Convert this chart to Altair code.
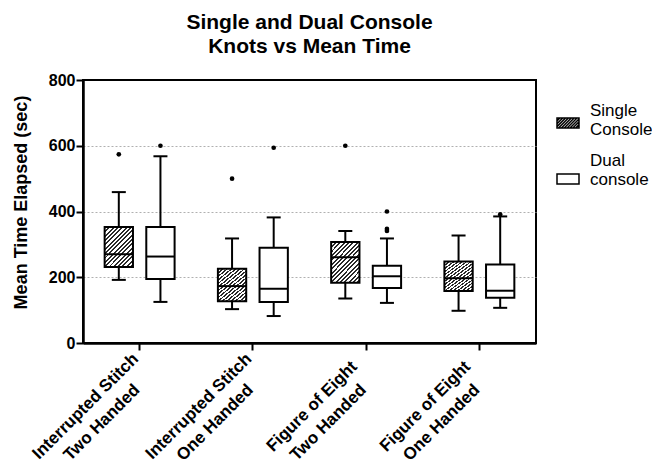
import altair as alt
import pandas as pd

# ---------------- data ----------------
knots = [
    "Interrupted Stitch\nTwo Handed",
    "Interrupted Stitch\nOne Handed",
    "Figure of Eight\nTwo Handed",
    "Figure of Eight\nOne Handed",
]
groups = ["Single Console", "Dual console"]

single_min = [192, 103, 135, 98]
single_q1 = [231, 127, 183, 158]
single_median = [270, 173, 261, 197]
single_q3 = [353, 226, 307, 248]
single_max = [459, 318, 341, 327]

dual_min = [125, 82, 122, 107]
dual_q1 = [195, 125, 167, 138]
dual_median = [263, 165, 203, 159]
dual_q3 = [353, 290, 235, 239]
dual_max = [568, 382, 318, 385]

outlier_knot = [0, 0, 1, 1, 2, 2, 2, 2, 3]
outlier_group = [0, 1, 0, 1, 0, 1, 1, 1, 1]
outlier_value = [574, 600, 500, 594, 600, 400, 341, 347, 391]

y_ticks = [0, 200, 400, 600, 800]

# ---------------- tables ----------------
rows = []
stats = {
    groups[0]: (single_min, single_q1, single_median, single_q3, single_max),
    groups[1]: (dual_min, dual_q1, dual_median, dual_q3, dual_max),
}
for i, k in enumerate(knots):
    for g in groups:
        lo, q1, med, q3, hi = stats[g]
        rows.append(dict(knot=k, group=g, lo=lo[i], q1=q1[i], med=med[i], q3=q3[i], hi=hi[i]))
box_df = pd.DataFrame(rows)

out_df = pd.DataFrame({
    "knot": [knots[i] for i in outlier_knot],
    "group": [groups[i] for i in outlier_group],
    "value": outlier_value,
})

FONT = "Liberation Sans"

# hatch fill for the single-console boxes
N = 16
dark = "#2a2a2a"
stops = []
for k in range(N):
    a, b, c = k / N, (k + 0.45) / N, (k + 1) / N
    stops += [
        {"offset": a, "color": dark},
        {"offset": b, "color": dark},
        {"offset": b, "color": "white"},
        {"offset": c, "color": "white"},
    ]
hatch = {"gradient": "linear", "x1": 0, "y1": 0, "x2": 0.82, "y2": 1.15, "stops": stops}

# legend swatch shapes (custom svg paths)
h = 0.45
parts = [f"M-1,{-h}H1V{h}H-1Z"]
step = 0.26
x0 = -1 - 2 * h + step
while x0 < 1:
    s0 = max(0.0, -1 - x0)
    s1 = min(2 * h, 1 - x0)
    if s1 > s0:
        parts.append(f"M{x0 + s0:.3f},{h - s0:.3f}L{x0 + s1:.3f},{h - s1:.3f}")
    x0 += step
hatch_path = "".join(parts)
rect_path = "M-1,-0.45H1V0.45H-1Z"

# ---------------- encodings ----------------
x_enc = alt.X(
    "knot:N",
    sort=knots,
    scale=alt.Scale(paddingInner=0, paddingOuter=0),
    axis=alt.Axis(
        title=None,
        labelExpr="split(datum.label, '\\n')",
        labelAngle=315,
        labelAlign="center",
        labelBaseline="middle",
        labelOffset=-54,
        labelPadding=56,
        labelFont=FONT,
        labelFontSize=17,
        labelFontWeight="bold",
        labelColor="black",
        labelLineHeight=23,
        labelOverlap=False,
        labelLimit=400,
        labelBound=False,
        tickSize=7,
        tickWidth=2,
        tickColor="black",
        domainColor="black",
        domainWidth=2.5,
        grid=False,
    ),
)
xoff_enc = alt.XOffset("group:N", sort=groups, scale=alt.Scale(paddingInner=0.32, paddingOuter=0.52))

y_axis = alt.Axis(
    values=y_ticks,
    title="Mean Time Elapsed (sec)",
    titleFont=FONT,
    titleFontSize=18,
    titleFontWeight="bold",
    titleColor="black",
    titlePadding=18,
    titleY=122,
    labelFont=FONT,
    labelFontSize=16,
    labelFontWeight="bold",
    labelColor="black",
    labelPadding=1,
    tickSize=7,
    tickWidth=2,
    tickColor="black",
    domainColor="black",
    domainWidth=2.5,
    grid=True,
    gridColor="#b0b0b0",
    gridDash=[2, 2],
    gridWidth=1,
    gridOpacity={"condition": {"test": "datum.value == 0 || datum.value == 800", "value": 0}, "value": 1},
)
y_scale = alt.Scale(domain=[0, 800], nice=False)


def Y(field):
    return alt.Y(field, type="quantitative", scale=y_scale, axis=y_axis)


base = alt.Chart(box_df)

whiskers = base.mark_rule(color="black", strokeWidth=2).encode(
    x=x_enc, xOffset=xoff_enc, y=Y("lo"), y2="hi"
)
box_single = base.transform_filter(alt.datum.group == groups[0]).mark_bar(
    fill=hatch, stroke="black", strokeWidth=2, opacity=1
).encode(x=x_enc, xOffset=xoff_enc, y=Y("q1"), y2="q3")
box_dual = base.transform_filter(alt.datum.group == groups[1]).mark_bar(
    fill="white", stroke="black", strokeWidth=2, opacity=1
).encode(x=x_enc, xOffset=xoff_enc, y=Y("q1"), y2="q3")
medians = base.mark_tick(color="black", size=28, thickness=2, opacity=1).encode(
    x=x_enc, xOffset=xoff_enc, y=Y("med")
)
cap_lo = base.mark_tick(color="black", size=14, thickness=2, opacity=1).encode(
    x=x_enc, xOffset=xoff_enc, y=Y("lo")
)
cap_hi = base.mark_tick(color="black", size=14, thickness=2, opacity=1).encode(
    x=x_enc, xOffset=xoff_enc, y=Y("hi")
)
outliers = alt.Chart(out_df).mark_circle(color="black", size=22, opacity=1).encode(
    x=x_enc, xOffset=xoff_enc, y=Y("value")
)

# ---------------- legend (drawn to the right of the plot) ----------------
legend_layers = []
for g, path, sym_y, txt_y in [
    (groups[0], hatch_path, 43, 36),
    (groups[1], rect_path, 99, 86),
]:
    ldf = pd.DataFrame({"group": [g]})
    legend_layers.append(
        alt.Chart(ldf).mark_point(
            shape=path, size=484, filled=True, fill="white", stroke="black",
            strokeWidth=1.5, opacity=1,
        ).encode(x=alt.value(485), y=alt.value(sym_y))
    )
    legend_layers.append(
        alt.Chart(ldf).mark_text(
            align="left", baseline="alphabetic", font=FONT, fontSize=17,
            color="black", lineBreak=" ", lineHeight=19,
        ).encode(text="group:N", x=alt.value(507), y=alt.value(txt_y))
    )

chart = (
    alt.layer(whiskers, box_single, box_dual, medians, cap_lo, cap_hi, outliers, *legend_layers)
    .properties(
        width=453,
        height=263,
        padding={"left": 75, "top": 72, "right": 116, "bottom": 118},
        autosize=alt.AutoSizeParams(type="none"),
        title=alt.Title(
            ["Single and Dual Console", "Knots vs Mean Time"],
            font=FONT,
            fontSize=21,
            fontWeight="bold",
            lineHeight=24,
            color="black",
            anchor="middle",
            offset=15,
        ),
    )
    .configure_view(stroke="black", strokeWidth=2)
)

chart.save("out.html", embed_options={"renderer": "svg", "actions": False})
